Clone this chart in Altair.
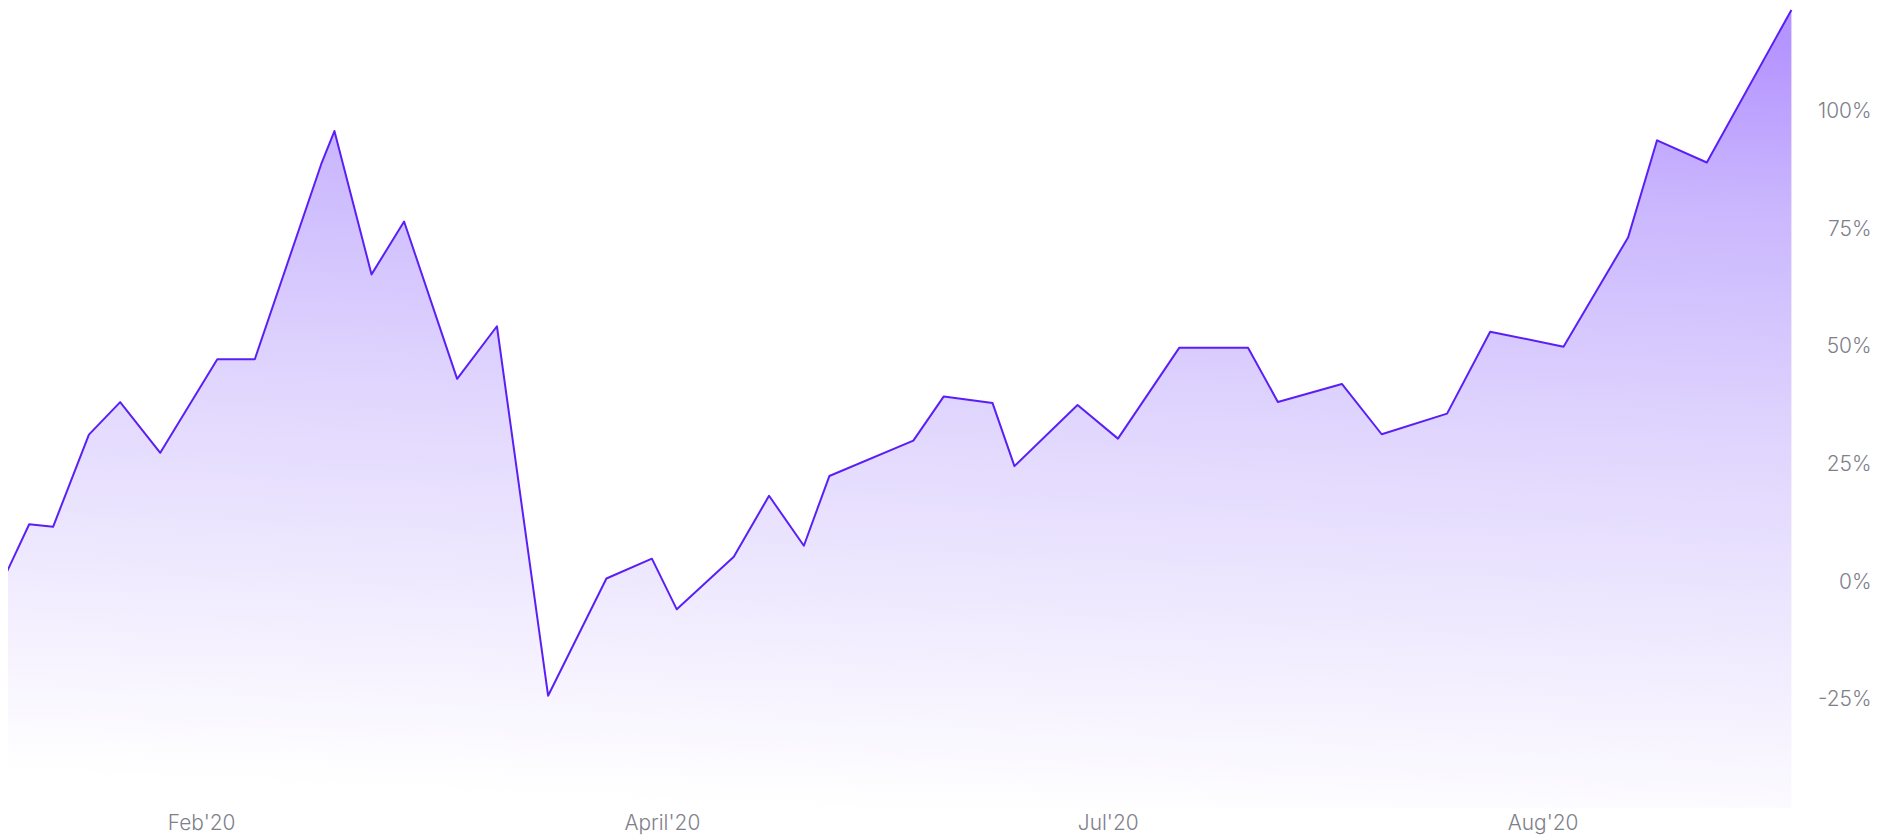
import altair as alt
import pandas as pd

# position along the period (arbitrary time index) and cumulative return in %
t = [0, 2.73, 5.13, 8.73, 11.87, 15.9, 21.63, 25.4, 32.07, 33.4, 37.13, 40.4,
     45.73, 49.73, 54.87, 60.73, 65.3, 67.8, 73.53, 77.07, 80.57, 83.13, 91.57,
     94.63, 99.53, 101.73, 108.07, 112.13, 118.3, 125.2, 128.2, 134.63, 138.63,
     145.2, 149.53, 156.9, 163.4, 166.3, 171.3, 179.8]
ret = [0, 12.33, 11.78, 31.37, 38.28, 27.5, 47.38, 47.38, 88.83, 95.88, 65.42,
       76.65, 43.23, 54.4, -24.11, 0.8, 5.01, -5.75, 5.41, 18.38, 7.76, 22.57,
       30.1, 39.49, 38.07, 24.68, 37.65, 30.52, 49.85, 49.85, 38.32, 42.13,
       31.45, 35.83, 53.24, 50.06, 73.33, 93.91, 89.19, 121.6]

x_tick_pos = [20, 66.3, 111.1, 154.8]
x_tick_labels = ["Feb'20", "April'20", "Jul'20", "Aug'20"]
y_ticks = [-25, 0, 25, 50, 75, 100]

df = pd.DataFrame({"t": t, "ret": ret})

label_expr = " : ".join(
    f'datum.value == {p} ? "{l}"' for p, l in zip(x_tick_pos, x_tick_labels)
) + ' : ""'

FONT = "Inter"
LABEL_COLOR = "#80808b"
FS = 21

x = alt.X(
    "t:Q",
    scale=alt.Scale(domain=[0, 180], nice=False, zero=False),
    axis=alt.Axis(
        values=x_tick_pos, labelExpr=label_expr, grid=False, domain=False,
        ticks=False, tickSize=0, labelPadding=4, labelFontSize=FS,
        labelColor=LABEL_COLOR, labelFont=FONT, labelFontWeight=300,
        title=None, labelFlush=False,
    ),
)
y = alt.Y(
    "ret:Q",
    scale=alt.Scale(domain=[-48, 121.6], nice=False, zero=False),
    axis=alt.Axis(
        orient="right", values=y_ticks, labelExpr='datum.value + "%"',
        grid=False, domain=False, ticks=False, tickSize=0,
        labelAlign="right", labelPadding=78, labelFontSize=FS,
        labelColor=LABEL_COLOR, labelFont=FONT, labelFontWeight=300,
        title=None, labelBaseline="middle",
    ),
)

gradient = alt.Gradient(
    gradient="linear",
    stops=[
        alt.GradientStop(color="#9567ff", offset=0),
        alt.GradientStop(color="#b397fd", offset=0.2),
        alt.GradientStop(color="#d3c4fd", offset=0.5),
        alt.GradientStop(color="#ece5fe", offset=0.78),
        alt.GradientStop(color="#ffffff", offset=1),
    ],
    x1=0.55, x2=0.45, y1=0, y2=1,
)

chart = (
    alt.Chart(df)
    .mark_area(
        color=gradient,
        line={"color": "#5a1ff5", "strokeWidth": 2, "strokeJoin": "round"},
        clip=False,
    )
    .encode(x=x, y=y, y2=alt.datum(-48))
    .properties(
        width=1800, height=802,
        autosize=alt.AutoSizeParams(type="none"),
        padding={"left": -6, "top": 0, "right": 84, "bottom": 30},
        background="white",
    )
    .configure_view(strokeWidth=0, stroke="transparent")
)

chart.save("out.html", embed_options={"renderer": "svg", "actions": False})
